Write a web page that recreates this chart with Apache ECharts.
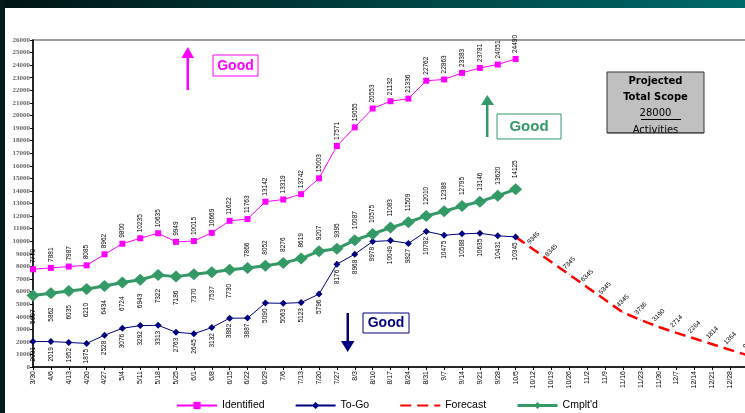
<!DOCTYPE html>
<html>
<head>
<meta charset="utf-8">
<script src="https://cdn.jsdelivr.net/npm/echarts@6/dist/echarts.min.js"></script>
<style>
html,body{margin:0;padding:0;background:#fff;}
#c{width:745px;height:413px;}
</style>
</head>
<body>
<div id="c"></div>
<script>
const categories = ['3/30','4/6','4/13','4/20','4/27','5/4','5/11','5/18','5/25','6/1','6/8','6/15','6/22','6/29','7/6','7/13','7/20','7/27','8/3','8/10','8/17','8/24','8/31','9/7','9/14','9/21','9/28','10/5','10/12','10/19','10/26','11/2','11/9','11/16','11/23','11/30','12/7','12/14','12/21','12/28','1/4'];
const identified = [7770,7881,7987,8085,8962,9800,10235,10635,9949,10015,10669,11622,11763,13142,13319,13742,15003,17571,19055,20553,21132,21336,22762,22863,23383,23781,24051,24490];
const toGo = [2031,2019,1952,1875,2528,3076,3292,3313,2763,2645,3132,3882,3887,5090,5063,5123,5796,8176,8968,9978,10049,9827,10782,10475,10588,10635,10431,10345];
const forecastDates = ['10/5','10/12','10/19','10/26','11/2','11/9','11/16','11/23','11/30','12/7','12/14','12/21','12/28','1/4'];
const forecastValues = [10345,9345,8345,7345,6345,5345,4345,3736,3190,2714,2264,1814,1364,914];
const completed = [5687,5862,6035,6210,6434,6724,6943,7322,7186,7370,7537,7730,7866,8052,8276,8619,9207,9395,10087,10575,11083,11509,12010,12388,12795,13146,13620,14125];
const yTicks = {min:0, max:26000, interval:1000};

const chart = echarts.init(document.getElementById('c'));
const lblFont = {fontFamily:'Liberation Sans, Arial, sans-serif', fontSize:6.5, color:'#000'};

const completedData = completed.map((v,i)=>({
  value:v,
  label: i < 12 ? {position:'bottom', distance:8, align:'right', verticalAlign:'middle'}
                : {position:'top', distance:5, align:'left', verticalAlign:'middle'}
}));

const option = {
  animation:false,
  backgroundColor:'#ffffff',
  grid:{left:33, right:-3, top:40, bottom:46, outerBoundsMode:'none', containLabel:false,
    show:true, borderColor:'#808080', borderWidth:1.5, backgroundColor:'transparent'},
  legend:{
    top:395, left:171, itemWidth:40, itemHeight:9, itemGap:30,
    textStyle:{fontFamily:'Liberation Sans, Arial, sans-serif', fontSize:10.5, color:'#000'},
    data:['Identified','To-Go',{name:'Forecast', itemStyle:{opacity:0}},{name:"Cmplt'd", lineStyle:{width:3}}]
  },
  xAxis:{
    type:'category', data:categories, boundaryGap:false,
    axisLine:{lineStyle:{color:'#000', width:1.5}},
    axisTick:{show:true, alignWithLabel:true, length:3, lineStyle:{color:'#000'}, interval:0},
    axisLabel:{interval:0, rotate:90, fontSize:7, color:'#000', fontFamily:'Liberation Sans, Arial, sans-serif', margin:4},
    splitLine:{show:false}
  },
  yAxis:{
    type:'value', min:yTicks.min, max:yTicks.max, interval:yTicks.interval,
    axisLine:{show:true, lineStyle:{color:'#000', width:1.5}},
    axisTick:{show:true, length:3, lineStyle:{color:'#000'}},
    axisLabel:{fontSize:7, color:'#666', fontWeight:'bold', fontFamily:'Liberation Serif, Times New Roman, serif', margin:3,
      formatter:(v)=>String(v)},
    splitLine:{show:false}
  },
  series:[
    {
      name:'Identified', type:'line', data:identified,
      symbol:'rect', symbolSize:6,
      itemStyle:{color:'#ff00ff'}, lineStyle:{color:'#ff00ff', width:1},
      label:{show:true, position:'top', distance:3, rotate:90, align:'left', verticalAlign:'middle', ...lblFont},
      z:3
    },
    {
      name:'To-Go', type:'line', data:toGo,
      symbol:'diamond', symbolSize:7,
      itemStyle:{color:'#000080'}, lineStyle:{color:'#000080', width:1},
      label:{show:true, position:'bottom', distance:2, rotate:90, align:'right', verticalAlign:'middle', ...lblFont},
      z:3
    },
    {
      name:'Forecast', type:'line', data:forecastDates.map((d,i)=>[d, forecastValues[i]]),
      symbol:'circle', symbolSize:1,
      itemStyle:{color:'#ff0000'}, lineStyle:{color:'#ff0000', width:2.5, type:[11,6]},
      label:{show:true, position:'top', distance:11, rotate:45, align:'center', verticalAlign:'middle', ...lblFont,
        formatter:(p)=> p.dataIndex === 0 ? '' : String(p.value[1])},
      z:2
    },
    {
      name:"Cmplt'd", type:'line', data:completedData,
      symbol:'diamond', symbolSize:[13,12],
      itemStyle:{color:'#339966'}, lineStyle:{color:'#339966', width:3},
      label:{show:true, rotate:90, ...lblFont},
      z:4
    }
  ],
  graphic:[
    {type:'rect', shape:{x:0,y:0,width:745,height:8}, z:100,
      style:{fill:new echarts.graphic.LinearGradient(0,0,1,0,[{offset:0,color:'#001414'},{offset:1,color:'#006a6a'}])}},
    {type:'rect', shape:{x:0,y:0,width:5,height:413}, z:100, style:{fill:'#021c1b'}},
    // magenta arrow and box
    {type:'rect', shape:{x:186.5,y:57,width:2.5,height:33}, style:{fill:'#ff00ff'}, z:50},
    {type:'polygon', shape:{points:[[181.5,58],[194,58],[187.8,47]]}, style:{fill:'#ff00ff'}, z:50},
    {type:'rect', shape:{x:213,y:55,width:45,height:21}, style:{fill:'#fff', stroke:'#ff00ff', lineWidth:1}, z:50},
    {type:'text', x:235.5, y:66, z:51, style:{text:'Good', fill:'#ff00ff', font:'bold 14px Liberation Sans, Arial, sans-serif', align:'center', verticalAlign:'middle'}},
    // green arrow and box
    {type:'rect', shape:{x:486,y:104,width:2.5,height:33}, style:{fill:'#339966'}, z:50},
    {type:'polygon', shape:{points:[[481,105],[494,105],[487.3,95]]}, style:{fill:'#339966'}, z:50},
    {type:'rect', shape:{x:497,y:114,width:64,height:25}, style:{fill:'#fff', stroke:'#339966', lineWidth:1}, z:50},
    {type:'text', x:529, y:127, z:51, style:{text:'Good', fill:'#339966', font:'bold 15px Liberation Sans, Arial, sans-serif', align:'center', verticalAlign:'middle'}},
    // navy arrow and box
    {type:'rect', shape:{x:346.5,y:313,width:2.5,height:30}, style:{fill:'#000080'}, z:50},
    {type:'polygon', shape:{points:[[341,341],[354.5,341],[347.7,352]]}, style:{fill:'#000080'}, z:50},
    {type:'rect', shape:{x:363,y:313,width:46,height:20}, style:{fill:'#fff', stroke:'#000080', lineWidth:1}, z:50},
    {type:'text', x:386, y:323.5, z:51, style:{text:'Good', fill:'#000080', font:'bold 14px Liberation Sans, Arial, sans-serif', align:'center', verticalAlign:'middle'}},
    // projected scope box
    {type:'rect', shape:{x:607,y:72,width:97,height:61}, style:{fill:'#c0c0c0', stroke:'#333', lineWidth:1}, z:50},
    {type:'text', x:655.5, y:81, z:51, style:{text:'Projected', fill:'#000', font:'bold 10px DejaVu Sans, sans-serif', align:'center', verticalAlign:'middle'}},
    {type:'text', x:655.5, y:97, z:51, style:{text:'Total Scope', fill:'#000', font:'bold 10px DejaVu Sans, sans-serif', align:'center', verticalAlign:'middle'}},
    {type:'text', x:655.5, y:113, z:51, style:{text:'28000', fill:'#000', font:'10px DejaVu Sans, sans-serif', align:'center', verticalAlign:'middle'}},
    {type:'line', shape:{x1:641,y1:119.5,x2:681,y2:119.5}, style:{stroke:'#000', lineWidth:1}, z:51},
    {type:'text', x:655.5, y:130, z:51, style:{text:'Activities', fill:'#000', font:'10px DejaVu Sans, sans-serif', align:'center', verticalAlign:'middle'}},
    {type:'rect', shape:{x:606,y:133.5,width:100,height:8}, style:{fill:'#fff'}, z:52},
    {type:'line', shape:{x1:607,y1:133,x2:704,y2:133}, style:{stroke:'#333', lineWidth:1}, z:53}
  ]
};
chart.setOption(option);
</script>
</body>
</html>
